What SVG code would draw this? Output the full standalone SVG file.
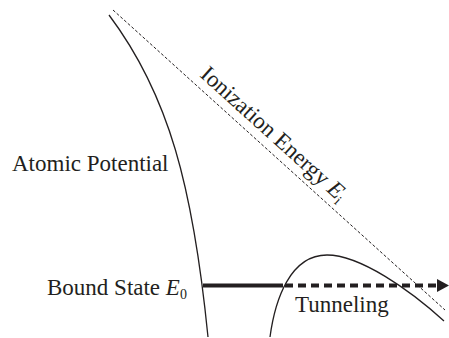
<svg xmlns="http://www.w3.org/2000/svg" width="449" height="338" viewBox="0 0 449 338">
<style>
text{font-family:"Liberation Serif","Times New Roman",serif;font-size:23px;fill:#231f20}
.curve{fill:none;stroke:#231f20;stroke-width:1.3}
.ion{fill:none;stroke:#231f20;stroke-width:1;stroke-dasharray:3 2}
.it{font-style:italic}
.sub{font-size:14px}
</style>
<rect width="449" height="338" fill="#fff"/>
<g id="atomic-potential">
<path class="curve" d="M109,15 C169,95 193,187 208,337"/>
<text x="12" y="171">Atomic Potential</text>
</g>
<g id="ionization-energy">
<line class="ion" x1="113" y1="10" x2="445" y2="310"/>
<text transform="translate(199,76) rotate(42.1)">Ionization Energy <tspan class="it">E</tspan><tspan class="sub" dy="4">i</tspan></text>
</g>
<g id="barrier">
<path class="curve" d="M270,337 C275,300 290,255 327,255 C360,255 410,290 444,321"/>
</g>
<g id="bound-state">
<text x="47" y="295">Bound State <tspan class="it">E</tspan><tspan class="sub" dy="4">0</tspan></text>
</g>
<g id="connectors">
<line x1="203" y1="285.5" x2="283" y2="285.5" stroke="#231f20" stroke-width="4"/>
<line x1="285" y1="285.5" x2="440" y2="285.5" stroke="#231f20" stroke-width="4" stroke-dasharray="8 5"/>
<polygon points="437,279 449,285.5 437,292" fill="#231f20"/>
</g>
<g id="tunneling">
<text x="295" y="312">Tunneling</text>
</g>
</svg>
